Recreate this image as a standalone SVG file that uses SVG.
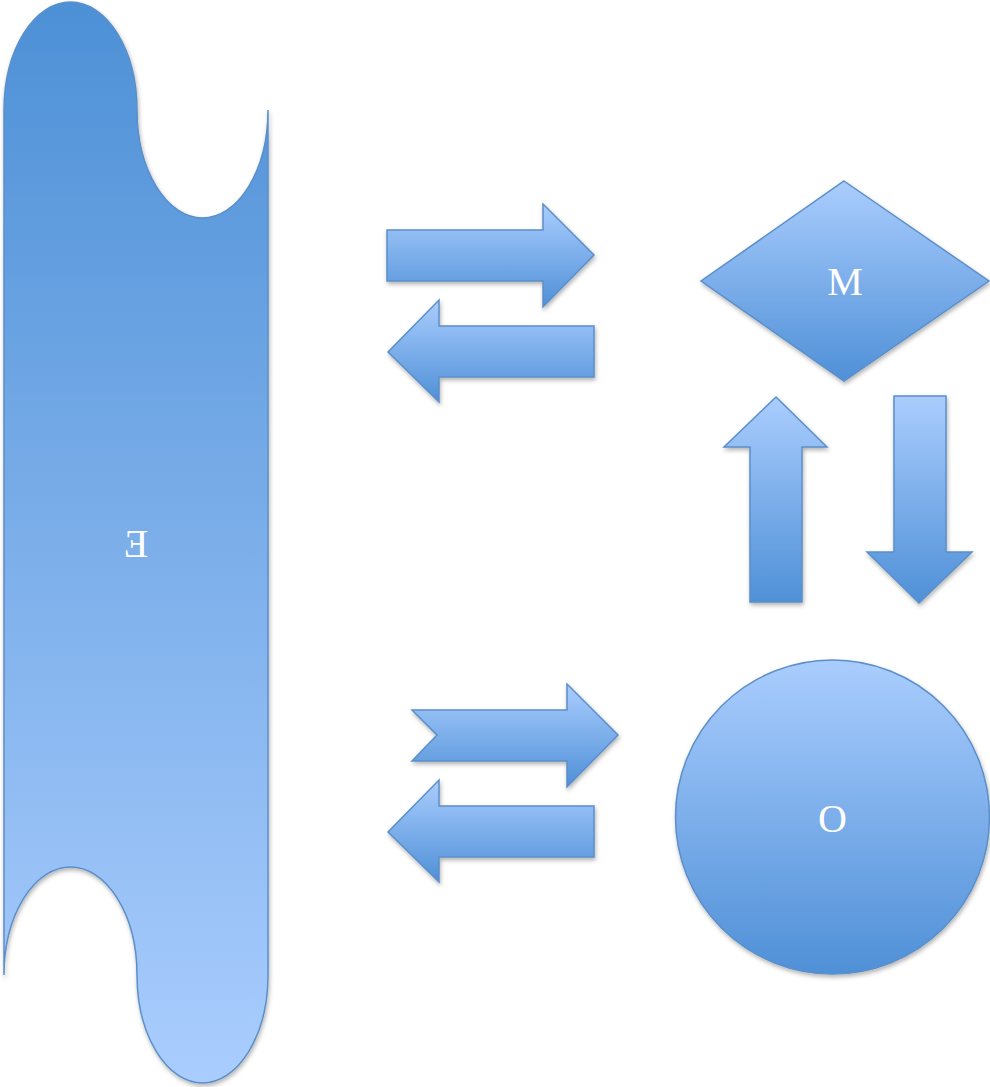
<svg xmlns="http://www.w3.org/2000/svg" width="990" height="1087" viewBox="0 0 990 1087">
<defs>
<linearGradient id="gUp" x1="0" y1="0" x2="0" y2="1">
<stop offset="0" stop-color="#aacdfe"/>
<stop offset="1" stop-color="#4f90d7"/>
</linearGradient>
<linearGradient id="gDown" x1="0" y1="0" x2="0" y2="1">
<stop offset="0" stop-color="#4d90d6"/>
<stop offset="1" stop-color="#aacdfe"/>
</linearGradient>
<filter id="sh" x="-10%" y="-10%" width="120%" height="120%">
<feDropShadow dx="1" dy="2.5" stdDeviation="2" flood-color="#000" flood-opacity="0.3"/>
</filter>
<style>
.shape{fill:url(#gUp);stroke:#5b8fc9;stroke-width:1.5;filter:url(#sh);stroke-linejoin:miter}
.banner{fill:url(#gDown);stroke:#5b8fc9;stroke-width:1.5;filter:url(#sh)}
.lbl{font-family:"Liberation Serif","Times New Roman",serif;font-size:40px;fill:#ffffff;text-anchor:middle}
</style>
</defs>
<rect width="990" height="1087" fill="#ffffff"/>
<g id="node-E">
<path class="banner" d="M4,110 A66.5,108 0 0 1 137,110 A65.5,108 0 0 0 268,110 L268,975 A65.5,108 0 0 1 137,975 A66.5,108 0 0 0 4,975 Z"/>
<text class="lbl" transform="translate(136,557) scale(-1,1)" x="0" y="0">E</text>
</g>
<g id="node-M">
<polygon class="shape" points="844,181 989,281 844,381 701,281"/>
<text class="lbl" x="845" y="295">M</text>
</g>
<g id="node-O">
<circle class="shape" cx="832.5" cy="817" r="157"/>
<text class="lbl" x="832.5" y="832">O</text>
</g>
<g id="connectors">
<path class="shape" d="M387,230 L543,230 L543,204 L594,255 L543,307 L543,281 L387,281 Z"/>
<path class="shape" d="M594,326 L439,326 L439,300 L388,352 L439,402 L439,377 L594,377 Z"/>
<path class="shape" d="M412,710 L567,710 L567,684 L618,735 L567,787 L567,761 L412,761 L437,735 Z"/>
<path class="shape" d="M594,806 L439,806 L439,780 L388,832 L439,882 L439,857 L594,857 Z"/>
<path class="shape" d="M750,602 L750,447 L724,447 L776,397 L827,447 L802,447 L802,602 Z"/>
<path class="shape" d="M894,396 L946,396 L946,552 L972,552 L919,603 L867,552 L894,552 Z"/>
</g>
</svg>
